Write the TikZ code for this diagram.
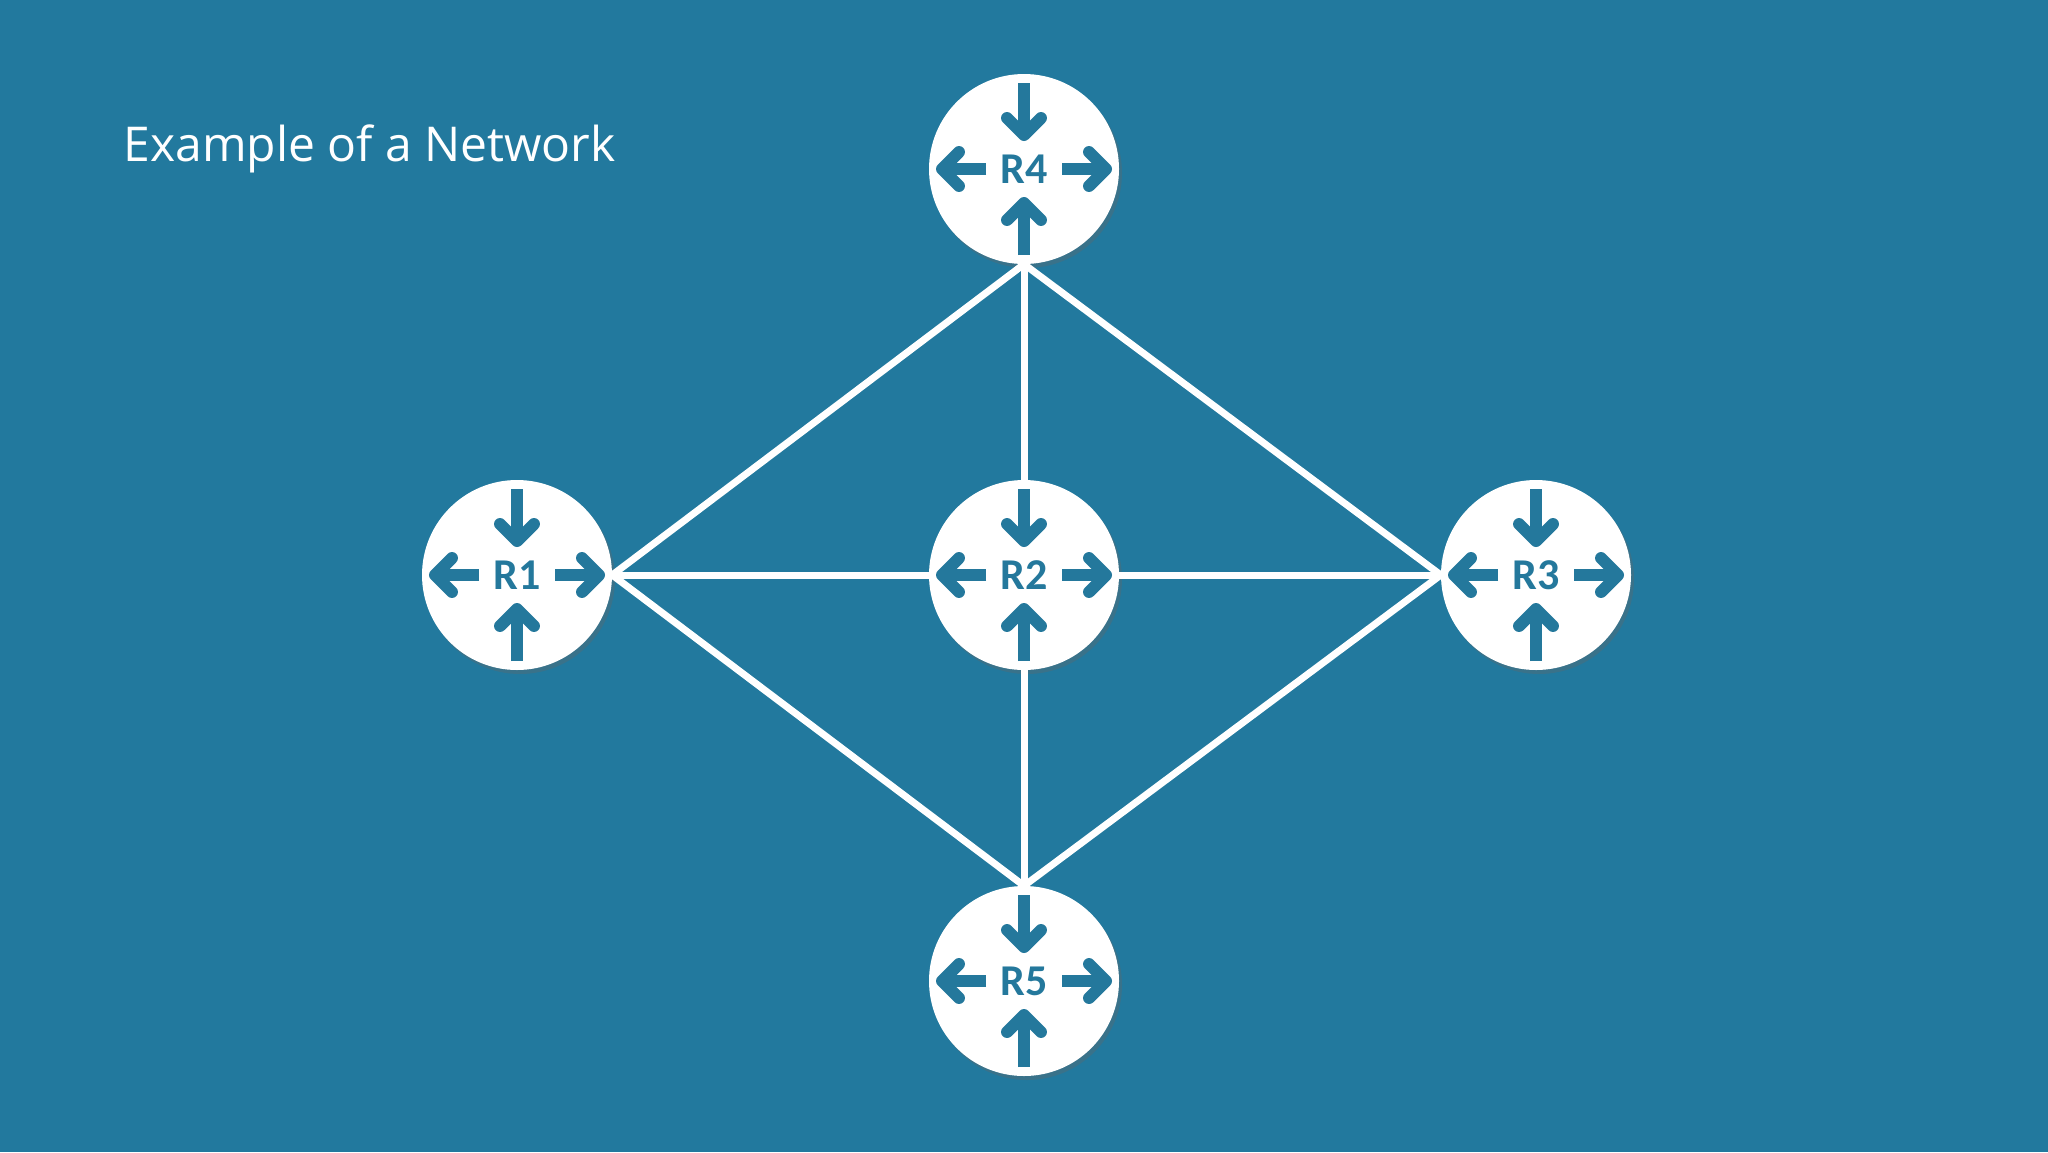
\documentclass[tikz,border=0pt]{standalone}
\usepackage{fontspec}
\setmainfont{Open Sans}
\newfontfamily\calfont{Carlito}
\usetikzlibrary{calc,shadows}
\definecolor{bg}{HTML}{22799E}
\definecolor{teal}{HTML}{24789C}
\tikzset{
  router/.style={circle,fill=white,minimum size=190pt,inner sep=0pt,
    drop shadow={shadow xshift=3pt,shadow yshift=-4pt,opacity=0.35,fill=black!60}},
  link/.style={white,line width=7pt},
  rarrow/.style={teal,line width=12pt,line cap=butt,line join=round},
  rlabel/.style={text=teal,font=\calfont\bfseries\fontsize{44}{44}\selectfont}
}
\newcommand{\rarr}[3]{% node, start offset, tip offset
  \coordinate (s) at ($(#1.center)+(#2)$);
  \coordinate (t) at ($(#1.center)+(#3)$);
  \draw[rarrow] (s) -- ($(t)!3pt!(s)$);
  \draw[rarrow,line cap=round] ($(t)!24pt!45:(s)$) -- (t) -- ($(t)!24pt!-45:(s)$);
}
\newcommand{\routericon}[2]{%
  \rarr{#1}{0,-86}{0,-34}
  \rarr{#1}{0,86}{0,34}
  \rarr{#1}{-38,0}{-82,0}
  \rarr{#1}{38,0}{82,0}
  \node[rlabel] at (#1.center) {#2};
}
\begin{document}
\begin{tikzpicture}[x=1pt,y=-1pt]
\fill[bg] (0,0) rectangle (2048,1152);
\useasboundingbox (0,0) rectangle (2048,1152);
\node[anchor=base west,text=white,font=\fontsize{48}{48}\selectfont] (title) at (120,161) {Example of a Network};
\node[router] (r4) at (1024,169) {};
\node[router] (r1) at (517,575) {};
\node[router] (r2) at (1024,575) {};
\node[router] (r3) at (1536,575) {};
\node[router] (r5) at (1024,981) {};
\draw[link] (r4.south) -- (r1.east);
\draw[link] (r4.south) -- (r3.west);
\draw[link] (r4.south) -- (r2.north);
\draw[link] (r1.east) -- (r2.west);
\draw[link] (r2.east) -- (r3.west);
\draw[link] (r1.east) -- (r5.north);
\draw[link] (r3.west) -- (r5.north);
\draw[link] (r2.south) -- (r5.north);
\routericon{r1}{R1}
\routericon{r2}{R2}
\routericon{r3}{R3}
\routericon{r4}{R4}
\routericon{r5}{R5}
\end{tikzpicture}
\end{document}
